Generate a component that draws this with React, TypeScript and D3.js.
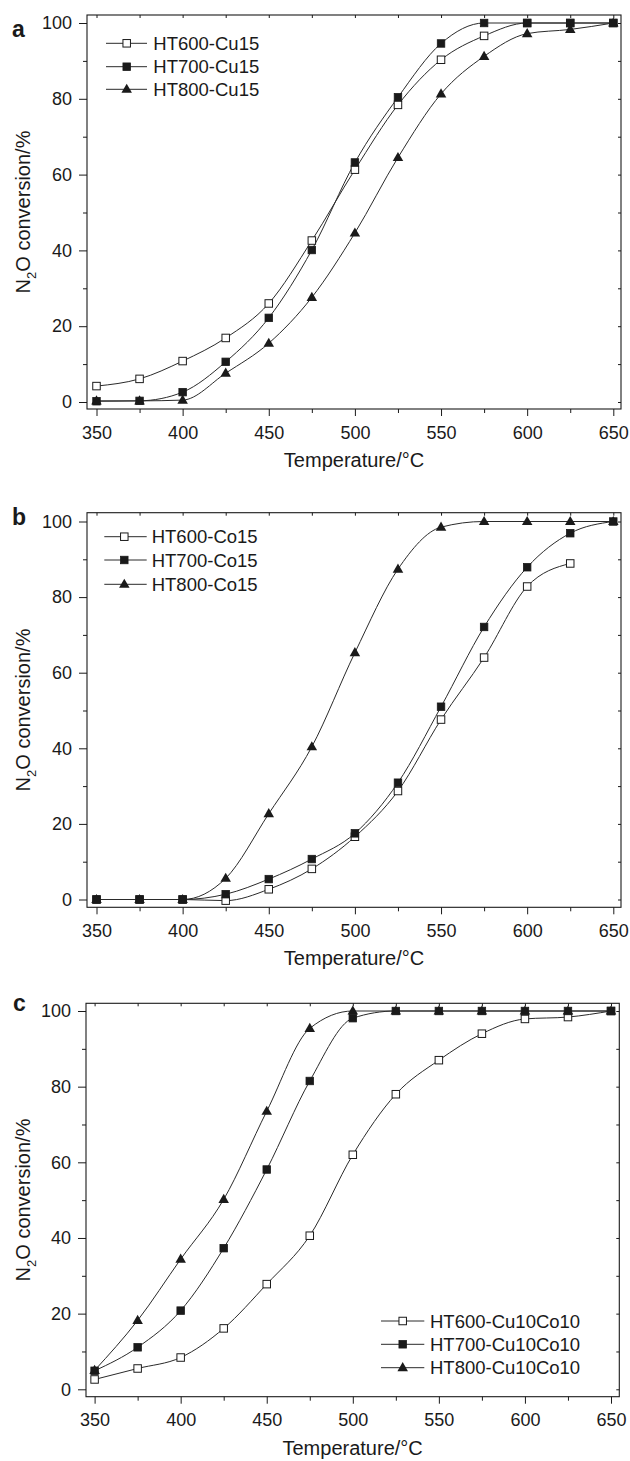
import React, { useEffect, useRef } from 'react';
import * as d3 from 'd3';

// measurement temperatures (°C)
const temps = [350, 375, 400, 425, 450, 475, 500, 525, 550, 575, 600, 625, 650];
const xTicks = [350, 400, 450, 500, 550, 600, 650];
const xMinor = [375, 425, 475, 525, 575, 625];
const yTicks = [0, 20, 40, 60, 80, 100];
const yMinor = [10, 30, 50, 70, 90];

// panel a
const namesA = ['HT600-Cu15', 'HT700-Cu15', 'HT800-Cu15'];
const ht600Cu15 = [4.2, 6.1, 10.8, 16.9, 26, 42.6, 61.3, 78.4, 90.3, 96.6, 100, 100, 100];
const ht700Cu15 = [0.2, 0.3, 2.6, 10.6, 22.2, 40.1, 63.2, 80.4, 94.6, 100, 100, 100, 100];
const ht800Cu15 = [0.3, 0.3, 0.5, 7.6, 15.5, 27.6, 44.6, 64.5, 81.3, 91.2, 97.2, 98.3, 100];

// panel b
const namesB = ['HT600-Co15', 'HT700-Co15', 'HT800-Co15'];
const ht600Co15 = [0, 0, 0, -0.3, 2.7, 8.1, 16.6, 28.7, 47.6, 64, 82.8, 88.9];
const ht700Co15 = [0, 0, 0, 1.4, 5.4, 10.7, 17.5, 30.9, 51, 72.1, 87.9, 96.9, 100];
const ht800Co15 = [0, 0, 0, 5.6, 22.7, 40.4, 65.3, 87.4, 98.5, 100, 100, 100, 100];

// panel c
const namesC = ['HT600-Cu10Co10', 'HT700-Cu10Co10', 'HT800-Cu10Co10'];
const ht600Cu10Co10 = [2.6, 5.5, 8.4, 16.1, 27.8, 40.6, 62, 78, 87, 94, 97.9, 98.4, 100];
const ht700Cu10Co10 = [4.9, 11.1, 20.8, 37.3, 58.1, 81.5, 98.1, 100, 100, 100, 100, 100, 100];
const ht800Cu10Co10 = [5, 18.2, 34.4, 50.2, 73.5, 95.4, 100, 100, 100, 100, 100, 100, 100];

const markers = ['openSquare', 'square', 'triangle'];

const panels = [
    {
        letter: 'a', letterX: 12, letterY: 36.5,
        names: namesA, series: [ht600Cu15, ht700Cu15, ht800Cu15],
        left: 87, right: 621, top: 15, bottom: 409,
        x350: 96.5, x650: 613.3, y0: 402, y100: 23,
        legX1: 106, legX2: 147, legMark: 126.7, legText: 153.3, legRows: [43.3, 66.7, 89.3],
    },
    {
        letter: 'b', letterX: 12, letterY: 525,
        names: namesB, series: [ht600Co15, ht700Co15, ht800Co15],
        left: 87, right: 621, top: 512.7, bottom: 907.3,
        x350: 96.5, x650: 613.3, y0: 899.5, y100: 521.5,
        legX1: 104.3, legX2: 146.7, legMark: 124.3, legText: 151.7, legRows: [536.7, 560, 584.3],
    },
    {
        letter: 'c', letterX: 13, letterY: 1010.7,
        names: namesC, series: [ht600Cu10Co10, ht700Cu10Co10, ht800Cu10Co10],
        left: 86, right: 619.3, top: 1003.3, bottom: 1396.7,
        x350: 94.6, x650: 611, y0: 1389.3, y100: 1011,
        legX1: 381, legX2: 424.3, legMark: 402.7, legText: 430, legRows: [1321, 1344.3, 1367.7],
    },
];

const FONT = '"Liberation Sans", Arial, Helvetica, sans-serif';
const INK = '#1a1a1a';

function drawMarker(g, type, cx, cy) {
    if (type === 'triangle') {
        g.append('path')
            .attr('d', d3.symbol(d3.symbolTriangle, 48)())
            .attr('transform', `translate(${cx},${cy + 0.5})`)
            .attr('fill', INK);
    } else {
        const s = 7.5;
        g.append('rect')
            .attr('x', cx - s / 2).attr('y', cy - s / 2)
            .attr('width', s).attr('height', s)
            .attr('fill', type === 'square' ? INK : '#fff')
            .attr('stroke', INK)
            .attr('stroke-width', type === 'square' ? 0.8 : 1);
    }
}

function styleAxis(sel) {
    sel.select('.domain').remove();
    sel.selectAll('line').attr('stroke', INK).attr('stroke-width', 1);
    sel.selectAll('text')
        .attr('fill', INK)
        .style('font-family', FONT)
        .style('font-size', '18px');
}

function App() {
    const ref = useRef(null);

    useEffect(() => {
        drawChart();
    }, []);

    function drawChart() {
        const svg = d3.select(ref.current);
        svg.selectAll('*').remove();

        panels.forEach(p => {
            const x = d3.scaleLinear().domain([350, 650]).range([p.x350, p.x650]);
            const y = d3.scaleLinear().domain([0, 100]).range([p.y0, p.y100]);
            const g = svg.append('g');

            // ticks
            g.append('g').attr('transform', `translate(0,${p.bottom})`)
                .call(d3.axisBottom(x).tickValues(xTicks).tickSize(7).tickPadding(10).tickFormat(d3.format('d')))
                .call(styleAxis);
            g.append('g').attr('transform', `translate(0,${p.bottom})`)
                .call(d3.axisBottom(x).tickValues(xMinor).tickSize(4).tickFormat(() => ''))
                .call(styleAxis);
            g.append('g').attr('transform', `translate(0,${p.top})`)
                .call(d3.axisTop(x).tickValues(xTicks.concat(xMinor)).tickSize(-3).tickFormat(() => ''))
                .call(styleAxis);
            g.append('g').attr('transform', `translate(${p.left},0)`)
                .call(d3.axisLeft(y).tickValues(yTicks).tickSize(8).tickPadding(7).tickFormat(d3.format('d')))
                .call(styleAxis);
            g.append('g').attr('transform', `translate(${p.left},0)`)
                .call(d3.axisLeft(y).tickValues(yMinor).tickSize(4).tickFormat(() => ''))
                .call(styleAxis);
            g.append('g').attr('transform', `translate(${p.right},0)`)
                .call(d3.axisRight(y).tickValues(yTicks.concat(yMinor)).tickSize(-3).tickFormat(() => ''))
                .call(styleAxis);

            // frame
            g.append('rect')
                .attr('x', p.left).attr('y', p.top)
                .attr('width', p.right - p.left).attr('height', p.bottom - p.top)
                .attr('fill', 'none').attr('stroke', INK).attr('stroke-width', 1.1);

            // curves
            const myLine = d3.line()
                .x((d, i) => x(temps[i]))
                .y(d => y(d))
                .curve(d3.curveMonotoneX);

            p.series.forEach(s => {
                g.append('path')
                    .datum(s)
                    .attr('d', myLine)
                    .attr('fill', 'none')
                    .attr('stroke', '#2a2a2a')
                    .attr('stroke-width', 1);
            });
            p.series.forEach((s, k) => {
                s.forEach((v, i) => drawMarker(g, markers[k], x(temps[i]), y(v)));
            });

            // legend
            p.names.forEach((name, k) => {
                const ry = p.legRows[k];
                g.append('line')
                    .attr('x1', p.legX1).attr('x2', p.legX2)
                    .attr('y1', ry).attr('y2', ry)
                    .attr('stroke', '#2a2a2a').attr('stroke-width', 1);
                drawMarker(g, markers[k], p.legMark, ry);
                g.append('text')
                    .attr('x', p.legText).attr('y', ry).attr('dy', '0.36em')
                    .attr('fill', INK)
                    .style('font-family', FONT).style('font-size', '18.5px')
                    .text(name);
            });

            // axis titles
            g.append('text')
                .attr('x', (p.left + p.right) / 2).attr('y', p.bottom + 58)
                .attr('text-anchor', 'middle')
                .attr('fill', INK)
                .style('font-family', FONT).style('font-size', '20px')
                .text('Temperature/°C');

            const yt = g.append('text')
                .attr('transform', `translate(29.5,${(p.top + p.bottom) / 2}) rotate(-90)`)
                .attr('text-anchor', 'middle')
                .attr('fill', INK)
                .style('font-family', FONT).style('font-size', '20px');
            yt.append('tspan').text('N');
            yt.append('tspan').attr('dy', 6).style('font-size', '13px').text('2');
            yt.append('tspan').attr('dy', -6).text('O conversion/%');

            // panel letter
            g.append('text')
                .attr('x', p.letterX).attr('y', p.letterY)
                .attr('fill', INK)
                .style('font-family', FONT).style('font-size', '23px').style('font-weight', 'bold')
                .text(p.letter);
        });
    }

    return (
        <svg ref={ref} width={630} height={1461}
            style={{ position: 'absolute', left: 0, top: 0, background: '#fff' }} />
    );
}

export default App;
